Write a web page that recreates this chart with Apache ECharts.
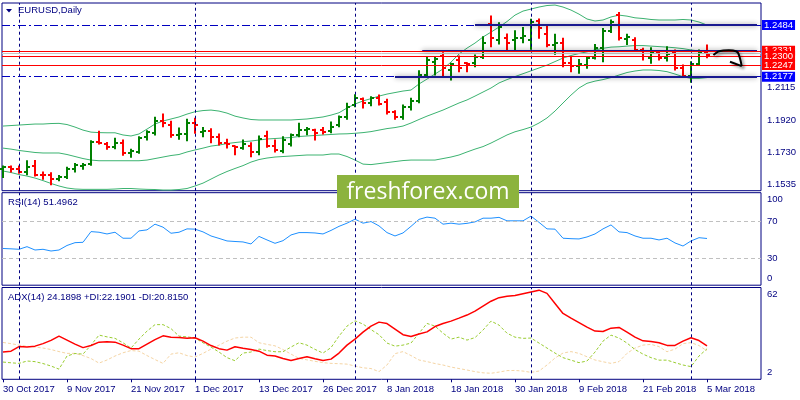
<!DOCTYPE html>
<html><head><meta charset="utf-8">
<script src="https://cdn.jsdelivr.net/npm/echarts@6/dist/echarts.min.js"></script>
<style>html,body{margin:0;padding:0;background:#fff}#c{width:800px;height:400px}</style>
</head><body><div id="c"></div>
<script>
// ---------- DATA ----------
const dates = ['30 Oct 2017','31 Oct 2017','1 Nov 2017','2 Nov 2017','3 Nov 2017','6 Nov 2017','7 Nov 2017','8 Nov 2017',
'9 Nov 2017','10 Nov 2017','13 Nov 2017','14 Nov 2017','15 Nov 2017','16 Nov 2017','17 Nov 2017','20 Nov 2017',
'21 Nov 2017','22 Nov 2017','23 Nov 2017','24 Nov 2017','27 Nov 2017','28 Nov 2017','29 Nov 2017','30 Nov 2017',
'1 Dec 2017','4 Dec 2017','5 Dec 2017','6 Dec 2017','7 Dec 2017','8 Dec 2017','11 Dec 2017','12 Dec 2017',
'13 Dec 2017','14 Dec 2017','15 Dec 2017','18 Dec 2017','19 Dec 2017','20 Dec 2017','21 Dec 2017','22 Dec 2017',
'26 Dec 2017','27 Dec 2017','28 Dec 2017','29 Dec 2017','2 Jan 2018','3 Jan 2018','4 Jan 2018','5 Jan 2018',
'8 Jan 2018','9 Jan 2018','10 Jan 2018','11 Jan 2018','12 Jan 2018','15 Jan 2018','16 Jan 2018','17 Jan 2018',
'18 Jan 2018','19 Jan 2018','22 Jan 2018','23 Jan 2018','24 Jan 2018','25 Jan 2018','26 Jan 2018','29 Jan 2018',
'30 Jan 2018','31 Jan 2018','1 Feb 2018','2 Feb 2018','5 Feb 2018','6 Feb 2018','7 Feb 2018','8 Feb 2018',
'9 Feb 2018','12 Feb 2018','13 Feb 2018','14 Feb 2018','15 Feb 2018','16 Feb 2018','19 Feb 2018','20 Feb 2018',
'21 Feb 2018','22 Feb 2018','23 Feb 2018','26 Feb 2018','27 Feb 2018','28 Feb 2018','1 Mar 2018','2 Mar 2018',
'5 Mar 2018'];

const open = [1.1629,1.1639,1.1630,1.1611,1.1646,1.1595,1.1595,1.1571,1.1579,1.1630,
1.1646,1.1658,1.1791,1.1777,1.1758,1.1781,1.1722,1.1730,1.1820,1.1841,
1.1916,1.1892,1.1829,1.1837,1.1900,1.1848,1.1853,1.1817,1.1785,1.1765,
1.1753,1.1765,1.1730,1.1825,1.1765,1.1737,1.1777,1.1832,1.1860,1.1860,
1.1860,1.1853,1.1888,1.1939,1.2011,1.2043,1.2021,1.2052,1.2027,1.1967,
1.1938,1.1997,1.2033,1.2187,1.2264,1.2300,1.2217,1.2276,1.2258,1.2258,
1.2294,1.2490,1.2395,1.2407,1.2395,1.2407,1.2395,1.2508,1.2429,1.2365,
1.2375,1.2257,1.2240,1.2246,1.2286,1.2346,1.2448,1.2543,1.2401,1.2395,
1.2336,1.2290,1.2316,1.2286,1.2316,1.2230,1.2183,1.2251,1.2322];
const high = [1.1646,1.1646,1.1646,1.1678,1.1680,1.1611,1.1607,1.1591,1.1639,1.1662,
1.1662,1.1797,1.1853,1.1787,1.1811,1.1801,1.1746,1.1820,1.1856,1.1936,
1.1955,1.1912,1.1872,1.1924,1.1930,1.1876,1.1868,1.1837,1.1805,1.1765,
1.1801,1.1785,1.1825,1.1853,1.1801,1.1820,1.1837,1.1900,1.1876,1.1865,
1.1876,1.1908,1.1944,1.2019,1.2070,1.2050,1.2058,1.2068,1.2043,1.1975,
1.2009,1.2049,1.2213,1.2292,1.2292,1.2319,1.2257,1.2300,1.2260,1.2306,
1.2415,1.2538,1.2498,1.2431,1.2450,1.2470,1.2518,1.2520,1.2480,1.2429,
1.2405,1.2296,1.2280,1.2296,1.2369,1.2464,1.2514,1.2559,1.2429,1.2409,
1.2346,1.2349,1.2330,1.2355,1.2336,1.2246,1.2266,1.2336,1.2365];
const low = [1.1579,1.1611,1.1603,1.1595,1.1587,1.1568,1.1535,1.1559,1.1573,1.1611,
1.1627,1.1651,1.1777,1.1746,1.1749,1.1710,1.1698,1.1722,1.1801,1.1831,
1.1880,1.1817,1.1805,1.1797,1.1841,1.1820,1.1785,1.1771,1.1753,1.1714,
1.1746,1.1702,1.1714,1.1758,1.1730,1.1725,1.1765,1.1820,1.1832,1.1801,
1.1837,1.1844,1.1880,1.1924,1.1999,1.1991,1.2005,1.2009,1.1955,1.1924,
1.1924,1.1979,1.2022,1.2177,1.2187,1.2177,1.2157,1.2207,1.2207,1.2236,
1.2286,1.2355,1.2371,1.2331,1.2331,1.2379,1.2340,1.2405,1.2355,1.2310,
1.2236,1.2207,1.2197,1.2227,1.2282,1.2266,1.2440,1.2395,1.2369,1.2330,
1.2276,1.2257,1.2276,1.2270,1.2217,1.2177,1.2144,1.2246,1.2290];
const close = [1.1641,1.1630,1.1611,1.1642,1.1591,1.1591,1.1571,1.1579,1.1630,1.1651,
1.1651,1.1791,1.1781,1.1761,1.1781,1.1725,1.1734,1.1813,1.1848,1.1916,
1.1900,1.1829,1.1837,1.1900,1.1888,1.1853,1.1817,1.1785,1.1777,1.1761,
1.1777,1.1730,1.1805,1.1765,1.1742,1.1801,1.1832,1.1860,1.1865,1.1844,
1.1848,1.1880,1.1936,1.1995,1.2050,1.2019,1.2050,1.2015,1.1967,1.1938,
1.1997,1.2033,1.2187,1.2276,1.2280,1.2229,1.2252,1.2229,1.2252,1.2294,
1.2377,1.2407,1.2472,1.2377,1.2407,1.2419,1.2502,1.2464,1.2365,1.2375,
1.2257,1.2240,1.2251,1.2286,1.2346,1.2448,1.2500,1.2405,1.2413,1.2336,
1.2330,1.2325,1.2290,1.2310,1.2230,1.2183,1.2251,1.2322,1.2306];

const bbUpper = [1.1884,1.1887,1.1890,1.1893,1.1896,1.1896,1.1899,1.1900,1.1893,1.1878,
1.1860,1.1848,1.1845,1.1844,1.1844,1.1831,1.1825,1.1837,1.1866,1.1896,
1.1914,1.1926,1.1938,1.1955,1.1969,1.1976,1.1979,1.1973,1.1961,1.1943,
1.1932,1.1923,1.1920,1.1920,1.1920,1.1920,1.1920,1.1923,1.1926,1.1932,
1.1938,1.1949,1.1963,1.1991,1.2015,1.2033,1.2047,1.2062,1.2074,1.2083,
1.2092,1.2098,1.2134,1.2163,1.2193,1.2223,1.2264,1.2312,1.2347,1.2377,
1.2413,1.2442,1.2472,1.2505,1.2543,1.2567,1.2579,1.2591,1.2600,1.2603,
1.2591,1.2573,1.2549,1.2520,1.2508,1.2514,1.2532,1.2543,1.2537,1.2527,
1.2523,1.2517,1.2514,1.2514,1.2514,1.2517,1.2514,1.2502,1.2484];
const bbMiddle = [1.1753,1.1747,1.1739,1.1733,1.1727,1.1724,1.1724,1.1724,1.1715,1.1703,
1.1691,1.1682,1.1678,1.1678,1.1678,1.1678,1.1678,1.1678,1.1682,1.1691,
1.1700,1.1709,1.1715,1.1730,1.1742,1.1753,1.1765,1.1771,1.1780,1.1786,
1.1791,1.1795,1.1801,1.1807,1.1810,1.1813,1.1816,1.1822,1.1825,1.1828,
1.1831,1.1834,1.1837,1.1838,1.1841,1.1845,1.1851,1.1860,1.1869,1.1875,
1.1884,1.1902,1.1923,1.1943,1.1961,1.1979,1.2000,1.2021,1.2039,1.2062,
1.2086,1.2110,1.2140,1.2160,1.2178,1.2195,1.2212,1.2229,1.2246,1.2267,
1.2288,1.2303,1.2315,1.2325,1.2336,1.2346,1.2353,1.2355,1.2359,1.2362,
1.2362,1.2359,1.2356,1.2353,1.2349,1.2344,1.2336,1.2330,1.2325];
const bbLower = [1.1617,1.1608,1.1596,1.1587,1.1575,1.1560,1.1543,1.1528,1.1516,1.1510,
1.1508,1.1508,1.1508,1.1508,1.1510,1.1513,1.1513,1.1510,1.1508,1.1507,
1.1504,1.1504,1.1507,1.1513,1.1528,1.1545,1.1569,1.1593,1.1614,1.1632,
1.1649,1.1670,1.1685,1.1694,1.1700,1.1703,1.1706,1.1709,1.1712,1.1712,
1.1712,1.1718,1.1718,1.1703,1.1682,1.1658,1.1655,1.1661,1.1667,1.1673,
1.1679,1.1682,1.1682,1.1682,1.1682,1.1691,1.1700,1.1712,1.1730,1.1747,
1.1762,1.1783,1.1807,1.1831,1.1850,1.1863,1.1878,1.1902,1.1932,1.1973,
1.2021,1.2068,1.2110,1.2138,1.2151,1.2160,1.2172,1.2187,1.2202,1.2211,
1.2217,1.2217,1.2214,1.2207,1.2193,1.2177,1.2167,1.2167,1.2172];

const rsi = [40.5,40.1,39.6,42.5,38.8,39.6,37.7,38.8,43.8,46.9,
47.3,59.1,58.4,56.5,58.4,51.8,51.8,59.9,61.0,67.3,
64.0,57.3,58.4,62.1,61.8,58.8,54.3,51.6,48.8,48.2,
47.7,45.5,53.8,49.9,46.2,49.1,55.4,58.0,58.0,57.6,
56.5,60.4,64.9,68.4,72.8,68.4,70.2,65.4,58.0,54.3,
57.6,64.9,72.6,75.1,73.9,67.3,68.4,67.3,68.2,69.8,
73.9,73.9,74.8,71.0,71.0,71.0,76.2,69.3,62.1,61.8,
51.8,51.3,51.0,53.2,56.5,62.1,66.5,58.8,58.0,54.3,
51.8,51.8,49.9,51.8,46.6,43.2,48.8,52.4,51.5];

const adx = [20.0,20.6,23.7,23.4,24.0,25.7,27.9,30.8,28.1,25.4,
23.0,24.4,26.7,26.9,26.7,24.7,22.3,22.3,25.4,28.4,
31.0,30.1,29.8,29.3,29.7,27.4,24.4,22.3,21.3,23.6,
22.5,21.7,20.6,17.9,17.3,15.6,14.2,15.6,16.8,15.4,
14.2,15.2,19.3,24.7,28.8,33.5,37.6,40.3,39.3,35.6,
31.8,30.5,32.2,33.7,37.3,39.4,41.0,43.0,45.1,47.8,
51.2,54.5,56.9,57.8,58.3,59.6,60.8,62.0,59.8,53.0,
46.2,43.0,40.0,36.9,34.2,33.9,36.2,36.7,33.5,30.1,
27.6,27.1,26.3,24.5,24.5,27.4,29.7,27.8,24.2];
const plusDI = [13.2,12.7,12.3,13.9,13.5,12.2,10.5,8.4,17.3,19.0,
18.6,24.7,31.5,30.3,29.3,26.3,22.7,28.8,34.2,38.6,
38.6,35.9,30.8,30.3,29.5,26.3,23.4,20.0,16.2,14.1,
19.3,20.0,22.0,21.0,20.2,20.2,23.4,26.3,24.7,21.8,
19.3,23.0,30.8,37.6,41.2,39.0,35.2,31.8,26.1,24.0,
24.7,26.1,32.8,39.4,37.6,32.8,28.8,30.1,28.1,29.8,
34.9,41.0,38.3,32.8,30.1,29.3,29.5,26.1,22.7,19.3,
16.2,14.5,12.8,13.9,20.0,27.4,31.5,29.5,26.1,21.7,
18.6,16.2,14.5,14.5,12.8,11.2,10.1,17.3,22.2];
const minusDI = [26.5,25.7,24.7,23.9,23.4,22.7,21.7,20.3,19.1,19.1,
17.6,15.6,12.5,14.6,17.3,19.5,21.0,20.6,17.6,14.9,
12.3,18.6,19.5,17.6,16.6,19.1,22.0,24.7,27.4,29.5,
30.1,30.1,26.3,25.2,24.2,21.7,18.6,15.7,14.7,13.7,
12.8,12.3,12.1,11.8,10.5,9.3,8.8,6.7,11.2,18.9,
20.3,17.6,14.6,13.5,12.2,11.2,9.8,8.8,7.8,6.7,
5.9,5.6,6.4,7.4,7.5,7.1,6.2,7.1,11.2,15.9,
19.3,20.3,19.1,16.8,14.6,13.4,12.3,13.5,19.1,22.7,
24.7,25.2,23.7,20.2,22.0,25.7,26.4,24.4,20.8];

const priceTicks = [1.1535, 1.1730, 1.1920, 1.2115];
const blueLevels = [1.2484, 1.2177];
const redLevels = [1.2331, 1.2300, 1.2247];
const askLevel = 1.2316;
const trendLines = [[59, 1.2484], [52.4, 1.2331], [49, 1.2177]];
const trendEnd = 94.25;
const rsiLevels = [30, 70];
const rsiTickPos = [7, 30, 70, 95];
const rsiTickText = ['0', '30', '70', '100'];
const adxTickPos = [5.9, 58.8];
const adxTickText = ['2', '62'];
const arrowCurve = [[88.8,1.2306],[89.4,1.2326],[90.04,1.2333],[91.25,1.2333],[91.875,1.2320],[92.34,1.2240]];
const arrowHead = [[90.875,1.2266],[92.34,1.2240]];

// ---------- CHART ----------
const NAVY = '#000080';
const FONT = '"Liberation Sans", Arial, sans-serif';
const FS = 9.5;
const X_MIN = -0.125, X_MAX = 94.75;
const idx = dates.map((d, i) => i);
const tickIdx = idx.filter(i => i % 8 === 0);
const monthStarts = idx.filter(i => i > 0 && dates[i].split(' ')[1] !== dates[i - 1].split(' ')[1]);
const vLines = monthStarts.map(i => ({ xAxis: i }));
const vLineStyle = { color: NAVY, type: [3, 3], width: 1 };

const chart = echarts.init(document.getElementById('c'), null, { renderer: 'canvas' });

function gridCfg(top, height) {
  return { left: 2, right: 39, top: top, height: height, show: true, borderColor: NAVY, borderWidth: 1, backgroundColor: '#fff' };
}
function xAxisCfg(g, showLabels) {
  return {
    type: 'value', gridIndex: g, min: X_MIN, max: X_MAX,
    axisLine: { show: false }, splitLine: { show: false },
    axisTick: showLabels ? { show: true, customValues: tickIdx, length: 3, lineStyle: { color: NAVY } } : { show: false },
    axisLabel: showLabels ? {
      show: true, customValues: tickIdx, formatter: v => dates[Math.round(v)] || '',
      align: 'left', color: NAVY, fontSize: FS, fontFamily: FONT, margin: 5
    } : { show: false }
  };
}
function yAxisCfg(g, min, max, vals, fmt) {
  return {
    type: 'value', gridIndex: g, position: 'right', min: min, max: max,
    axisLine: { show: false }, axisTick: { show: false }, splitLine: { show: false },
    axisLabel: { show: true, customValues: vals, formatter: fmt, color: NAVY, fontSize: FS, fontFamily: FONT, margin: 6 }
  };
}
function lineSeries(data, g, color, width, type, z) {
  return {
    type: 'line', xAxisIndex: g, yAxisIndex: g, data: data.map((v, i) => [i, v]),
    showSymbol: false, symbol: 'none', silent: true, z: z || 2,
    lineStyle: { color: color, width: width, type: type || 'solid' }
  };
}
function levelLabel(bg) {
  return { show: true, position: 'end', distance: 1, formatter: p => Number(p.value).toFixed(4),
    backgroundColor: bg, color: '#fff', fontSize: FS, fontFamily: FONT, padding: [0, 2], lineHeight: 10 };
}

const candles = {
  type: 'custom', xAxisIndex: 0, yAxisIndex: 0, z: 4, silent: true,
  data: idx.map(i => [i, open[i], high[i], low[i], close[i]]),
  encode: { x: 0, y: [1, 2, 3, 4] },
  renderItem: function (params, api) {
    const i = api.value(0), o = api.value(1), h = api.value(2), l = api.value(3), c = api.value(4);
    const ph = api.coord([i, h]), pl = api.coord([i, l]), po = api.coord([i, o]), pc = api.coord([i, c]);
    const col = c >= o ? '#008000' : '#FF0000';
    const x = Math.round(ph[0]);
    const st = { stroke: col, lineWidth: 2 };
    const yo = Math.round(po[1]), yc = Math.round(pc[1]);
    return { type: 'group', children: [
      { type: 'line', shape: { x1: x, y1: ph[1] - 0.5, x2: x, y2: pl[1] + 0.5 }, style: st },
      { type: 'line', shape: { x1: x - 3, y1: yo, x2: x, y2: yo }, style: st },
      { type: 'line', shape: { x1: x, y1: yc, x2: x + 3, y2: yc }, style: st }
    ] };
  },
  markLine: { silent: true, precision: 4, symbol: ['none', 'none'], label: { show: false }, lineStyle: vLineStyle, data: vLines }
};

const levelSeries = [];
// dashed blue levels across the panel, with blue price boxes
levelSeries.push({
  type: 'line', xAxisIndex: 0, yAxisIndex: 0, data: [], z: 3,
  markLine: { silent: true, precision: 4, symbol: ['none', 'none'],
    lineStyle: { color: '#0000C0', type: [8, 3, 2, 3], width: 1 },
    label: levelLabel('#0000FF'),
    data: blueLevels.map(v => ({ yAxis: v })) }
});
// grey ask line
levelSeries.push({
  type: 'line', xAxisIndex: 0, yAxisIndex: 0, data: [], z: 3,
  markLine: { silent: true, precision: 4, symbol: ['none', 'none'], label: { show: false },
    lineStyle: { color: '#C8C8C8', type: 'solid', width: 1 }, data: [{ yAxis: askLevel }] }
});
// shaded trend lines
levelSeries.push({
  type: 'line', xAxisIndex: 0, yAxisIndex: 0, data: [], z: 3,
  markLine: { silent: true, precision: 4, symbol: ['none', 'none'], label: { show: false },
    lineStyle: { color: '#1A1A90', type: 'solid', width: 2, shadowColor: 'rgba(0,0,0,0.45)', shadowBlur: 5 },
    data: trendLines.map(t => [{ coord: [t[0], t[1]] }, { coord: [trendEnd, t[1]] }]) }
});
// red levels, one series each so that later boxes sit on top
redLevels.forEach((v, k) => {
  levelSeries.push({
    type: 'line', xAxisIndex: 0, yAxisIndex: 0, data: [], z: 5 + k,
    markLine: { silent: true, precision: 4, symbol: ['none', 'none'],
      lineStyle: { color: '#FF0000', type: 'solid', width: 1 },
      label: levelLabel('#FF0000'), data: [{ yAxis: v }] }
  });
});

const rsiSeries = lineSeries(rsi, 1, '#1E90FF', 1, 'solid', 3);
rsiSeries.markLine = { silent: true, precision: 4, symbol: ['none', 'none'], label: { show: false },
  data: rsiLevels.map(v => ({ yAxis: v, lineStyle: { color: '#C0C0C0', type: [4, 3], width: 1 } }))
    .concat(vLines.map(d => ({ xAxis: d.xAxis, lineStyle: vLineStyle }))) };

const minusSeries = lineSeries(minusDI, 2, '#F5D5A5', 1, [3, 2], 2);
const plusSeries = lineSeries(plusDI, 2, '#9ACD32', 1, [3, 2], 3);
const adxSeries = lineSeries(adx, 2, '#FF0000', 1.5, 'solid', 4);
adxSeries.markLine = { silent: true, precision: 4, symbol: ['none', 'none'], label: { show: false }, lineStyle: vLineStyle, data: vLines };

const option = {
  animation: false,
  backgroundColor: '#fff',
  grid: [gridCfg(3, 187.7), gridCfg(192.7, 92.5), gridCfg(287.5, 91.8)],
  xAxis: [xAxisCfg(0, false), xAxisCfg(1, false), xAxisCfg(2, true)],
  yAxis: [
    yAxisCfg(0, 1.1500, 1.2615, priceTicks, v => v.toFixed(4)),
    yAxisCfg(1, 0, 102, rsiTickPos, v => rsiTickText[rsiTickPos.findIndex(p => Math.abs(p - v) < 0.01)] || ''),
    yAxisCfg(2, 1.5, 63.8, adxTickPos, v => adxTickText[adxTickPos.findIndex(p => Math.abs(p - v) < 0.01)] || '')
  ],
  series: [
    lineSeries(bbUpper, 0, '#3CB371', 1, 'solid', 2),
    lineSeries(bbMiddle, 0, '#3CB371', 1, 'solid', 2),
    lineSeries(bbLower, 0, '#3CB371', 1, 'solid', 2),
    candles
  ].concat(levelSeries).concat([rsiSeries, minusSeries, plusSeries, adxSeries])
};
chart.setOption(option);

// ---------- overlays (texts, watermark, arrow) ----------
const toPx = p => chart.convertToPixel({ xAxisIndex: 0, yAxisIndex: 0 }, p);
const arrowStyle = { stroke: '#000', lineWidth: 2, fill: null, shadowColor: 'rgba(0,0,0,0.45)', shadowBlur: 3, shadowOffsetX: 2, shadowOffsetY: 2 };
chart.setOption({
  graphic: [
    { type: 'polygon', shape: { points: [[6, 9], [12, 9], [9, 12.5]] }, style: { fill: NAVY } },
    { type: 'text', x: 18, y: 10, style: { text: 'EURUSD,Daily', fill: NAVY, font: FS + 'px ' + FONT, verticalAlign: 'middle' } },
    { type: 'text', x: 8, y: 202, style: { text: 'RSI(14) 51.4962', fill: NAVY, font: FS + 'px ' + FONT, verticalAlign: 'middle' } },
    { type: 'text', x: 8, y: 297, style: { text: 'ADX(14) 24.1898 +DI:22.1901 -DI:20.8150', fill: NAVY, font: FS + 'px ' + FONT, verticalAlign: 'middle' } },
    { type: 'polyline', z: 50, shape: { points: arrowCurve.map(toPx), smooth: 0.3 }, style: arrowStyle },
    { type: 'polyline', z: 50, shape: { points: arrowHead.map(toPx) }, style: arrowStyle },
    { type: 'rect', z: 60, shape: { x: 337, y: 175, width: 182, height: 33 }, style: { fill: '#8CB33E' } },
    { type: 'text', z: 61, x: 428, y: 192, style: { text: 'freshforex.com', fill: '#fff', font: '23px "Open Sans", sans-serif', align: 'center', verticalAlign: 'middle' } }
  ]
});
</script>
</body></html>
